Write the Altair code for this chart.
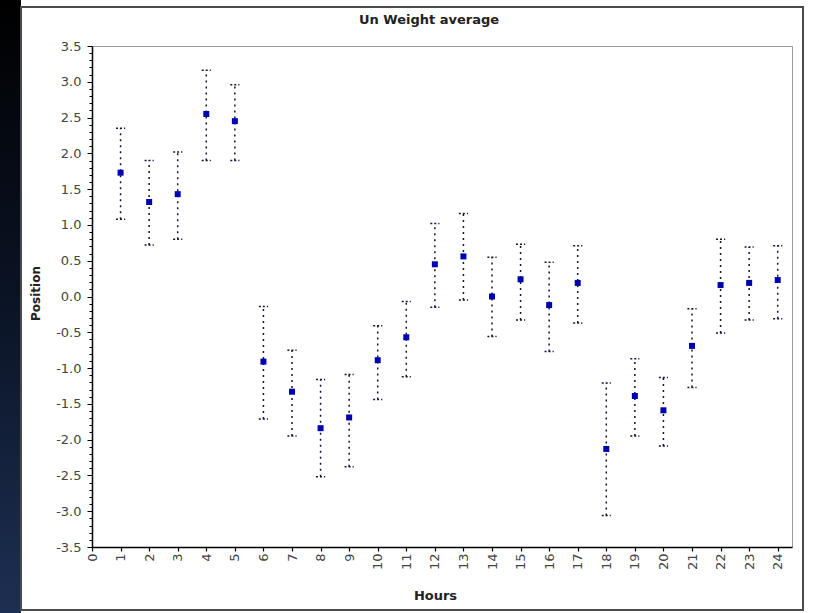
import altair as alt
import pandas as pd

# Hourly averages with their lower / upper bounds
hours = list(range(1, 25))
mean = [1.73, 1.32, 1.43, 2.55, 2.45, -0.91, -1.33, -1.84, -1.69, -0.89, -0.57, 0.45,
        0.56, 0.00, 0.24, -0.12, 0.19, -2.13, -1.39, -1.59, -0.69, 0.16, 0.19, 0.23]
upper = [2.35, 1.90, 2.02, 3.16, 2.96, -0.14, -0.75, -1.16, -1.09, -0.41, -0.07, 1.02,
         1.16, 0.55, 0.73, 0.48, 0.71, -1.21, -0.87, -1.13, -0.17, 0.80, 0.69, 0.71]
lower = [1.08, 0.72, 0.80, 1.90, 1.90, -1.71, -1.95, -2.52, -2.38, -1.44, -1.12, -0.15,
         -0.05, -0.56, -0.33, -0.77, -0.37, -3.06, -1.95, -2.09, -1.27, -0.51, -0.33, -0.31]

x_ticks = list(range(0, 25))
y_ticks = [round(-3.5 + 0.1 * i, 1) for i in range(71)]

df = pd.DataFrame({"hour": hours, "mean": mean, "upper": upper, "lower": lower})
one = pd.DataFrame({"k": [0]})

W, H = 700, 501
PAD = {"left": 92, "top": 46, "right": 22, "bottom": 66}

# major y ticks every 0.5, minor ticks every 0.1
major = "abs(datum.value * 2 - round(datum.value * 2)) < 0.001"

x_scale = alt.Scale(domain=[0, 24.5], nice=False, zero=False)
y_scale = alt.Scale(domain=[-3.5, 3.5], nice=False, zero=False)

x_axis = alt.Axis(
    values=x_ticks, tickCount=200, format="d", labelAngle=-90, tickSize=4, labelPadding=2,
    labelFontSize=13, labelColor="#444444", grid=False,
    domainColor="#000000", domainWidth=1.5, tickColor="#000000", tickWidth=1.2,
    title="Hours", titleFontSize=13, titleFontWeight="bold", titleColor="#222222",
    titleX=343, titleY=48, titleAlign="center", titleBaseline="middle",
    labelOverlap=False,
)
y_axis = alt.Axis(
    values=y_ticks, tickCount=200,
    labelExpr=f"{major} ? replace(format(datum.value, '.1f'), '\u2212', '-') : ''",
    tickSize={"condition": {"test": major, "value": 5}, "value": 3},
    labelPadding=6, labelFontSize=13, labelColor="#444444", grid=False,
    domainColor="#000000", domainWidth=1.5, tickColor="#000000", tickWidth=1,
    title="Position", titleFontSize=12, titleFontWeight="bold", titleColor="#222222",
    titleX=-57, titleY=247, titleAlign="center", titleBaseline="middle",
    titleAngle=-90, labelOverlap=False,
)

# dark strip along the left edge and the outer frame
strip = alt.Chart(one).mark_rect(
    fill=alt.LinearGradient(
        gradient="linear", x1=0, y1=0, x2=0, y2=1,
        stops=[alt.GradientStop(color="#000000", offset=0),
               alt.GradientStop(color="#0b1426", offset=0.5),
               alt.GradientStop(color="#1d2f52", offset=1)],
    )
).encode(x=alt.value(-92), x2=alt.value(-71), y=alt.value(-46), y2=alt.value(567))

frame = alt.Chart(one).mark_rect(
    fillOpacity=0, stroke="#4a4a4a", strokeWidth=2
).encode(x=alt.value(-71), x2=alt.value(711), y=alt.value(-39), y2=alt.value(564))

title = alt.Chart(one).mark_text(
    text="Un Weight average", fontSize=13, fontWeight="bold", color="#222222",
    baseline="middle", align="center",
).encode(x=alt.value(337), y=alt.value(-26))

base = alt.Chart(df)

bars = base.mark_rule(
    color="#14143c", strokeWidth=1.5, strokeDash=[2, 4]
).encode(
    x=alt.X("hour:Q", scale=x_scale, axis=x_axis),
    y=alt.Y("lower:Q", scale=y_scale, axis=y_axis),
    y2="upper:Q",
)

caps_base = base.transform_calculate(
    x0="datum.hour - 0.16", x1="datum.hour + 0.16"
)
cap_hi = caps_base.mark_rule(color="#14143c", strokeWidth=1.5, strokeDash=[2, 2]).encode(
    x=alt.X("x0:Q", scale=x_scale), x2="x1:Q", y=alt.Y("upper:Q", scale=y_scale)
)
cap_lo = caps_base.mark_rule(color="#14143c", strokeWidth=1.5, strokeDash=[2, 2]).encode(
    x=alt.X("x0:Q", scale=x_scale), x2="x1:Q", y=alt.Y("lower:Q", scale=y_scale)
)

points = base.mark_point(
    shape="square", filled=True, size=36, color="#0000b0", opacity=1
).encode(
    x=alt.X("hour:Q", scale=x_scale),
    y=alt.Y("mean:Q", scale=y_scale),
)

chart = alt.layer(strip, frame, title, bars, cap_hi, cap_lo, points).properties(
    width=W, height=H, padding=PAD, autosize="none", background="#ffffff",
).configure(font="DejaVu Sans").configure_view(stroke="#9a9a9a", strokeWidth=1)

chart.save("out.html", embed_options={"renderer": "svg", "actions": False})
